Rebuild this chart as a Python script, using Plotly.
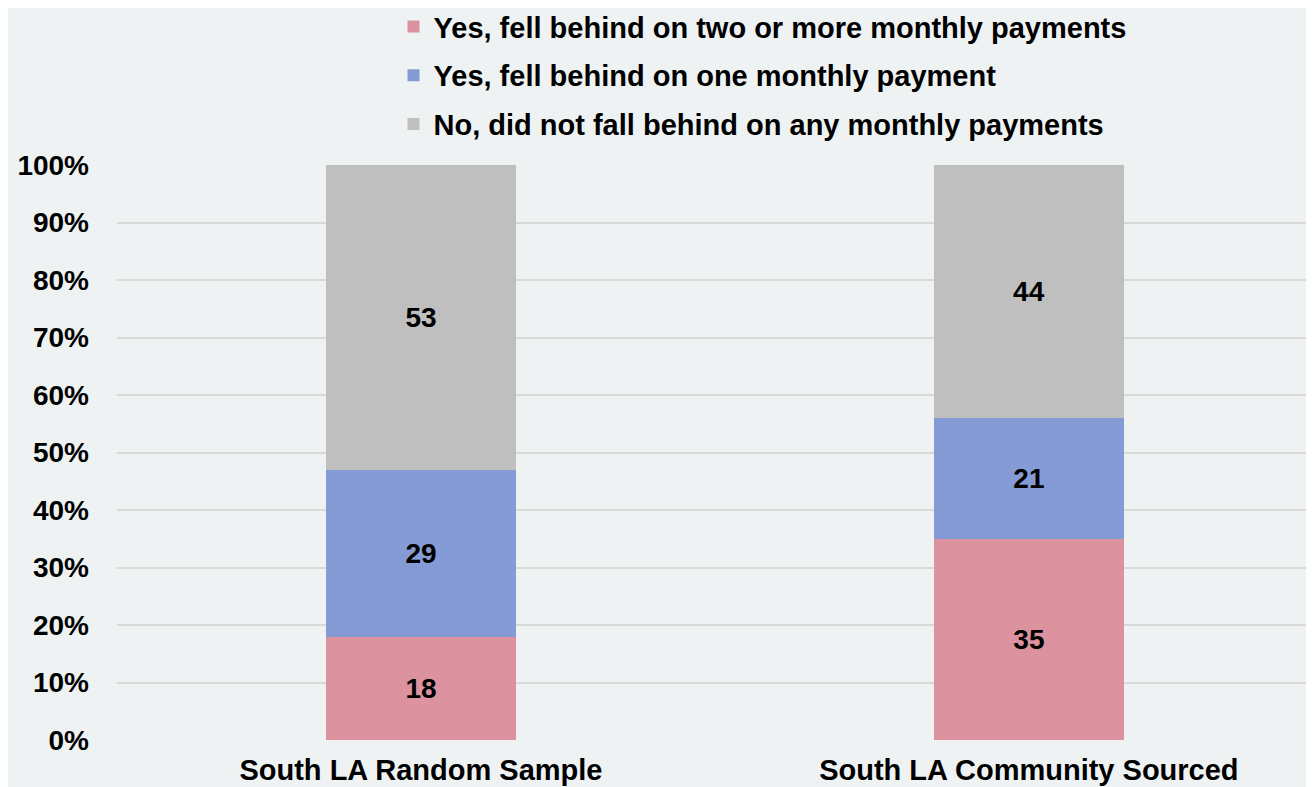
import plotly.graph_objects as go

categories = ["South LA Random Sample", "South LA Community Sourced"]
series_names = [
    "Yes, fell behind on two or more monthly payments",
    "Yes, fell behind on one monthly payment",
    "No, did not fall behind on any monthly payments",
]
two_or_more = [18, 35]
one_payment = [29, 21]
none_behind = [53, 44]
colors = ["#dc929f", "#859bd6", "#bfbfbf"]
y_ticks = [0, 10, 20, 30, 40, 50, 60, 70, 80, 90, 100]
y_tick_labels = [f"{v}%" for v in y_ticks]

FONT = "Liberation Sans"
fig = go.Figure()
for i, (name, vals) in enumerate(zip(series_names, [two_or_more, one_payment, none_behind])):
    fig.add_trace(go.Bar(
        x=[0, 1], y=vals, name=name,
        marker=dict(color=colors[i], line=dict(width=0)),
        width=0.3125,
        text=[str(v) for v in vals],
        textposition="inside", insidetextanchor="middle",
        textfont=dict(family=FONT, size=28, color="black", weight="bold"),
        constraintext="none",
        legendgroup=f"g{i}",
    ))

fig.update_layout(
    barmode="stack",
    width=1306, height=779,
    margin=dict(l=109, r=0, t=157, b=47, pad=0, autoexpand=False),
    paper_bgcolor="#eef2f3", plot_bgcolor="#eef2f3",
    font=dict(family=FONT, size=28, color="black", weight="bold"),
    showlegend=True,
    legend=dict(
        x=0.231, xanchor="left", y=1.285, yanchor="top", yref="paper",
        traceorder="grouped", tracegroupgap=8,
        bgcolor="rgba(0,0,0,0)",
        font=dict(family=FONT, size=29, color="black", weight="bold"),
    ),
    xaxis=dict(
        tickmode="array", tickvals=[0, 1], ticktext=categories,
        range=[-0.5, 1.469], showgrid=False, zeroline=False, showline=False,
        ticks="", tickfont=dict(size=29), ticklabelstandoff=10,
    ),
    yaxis=dict(
        range=[0, 100], tickmode="array", tickvals=y_ticks, ticktext=y_tick_labels,
        showgrid=True, gridcolor="#d9d9d9", gridwidth=2, zeroline=False,
        showline=False, ticks="", ticklabelstandoff=27, tickfont=dict(size=28),
    ),
)
fig.write_html("out.html")
